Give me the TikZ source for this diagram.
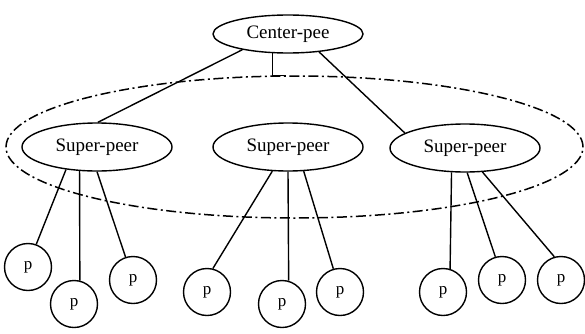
\documentclass[tikz,border=0pt]{standalone}
\usepackage{fontspec}
\setmainfont{Liberation Serif}
\usetikzlibrary{shapes.geometric}
\begin{document}
\begin{tikzpicture}[x=1pt,y=1pt,
  line width=1.4pt,
  peerbox/.style={draw, ellipse, inner sep=0pt, minimum width=150pt, minimum height=48pt, font=\fontsize{19}{21}\selectfont},
  centerbox/.style={draw, ellipse, inner sep=0pt, minimum width=150pt, minimum height=38pt, font=\fontsize{19}{21}\selectfont},
  pnode/.style={draw, circle, inner sep=0pt, minimum size=47pt, font=\fontsize{17}{19}\selectfont},
  groupline/.style={draw, ellipse, inner sep=0pt, minimum width=577pt, minimum height=142pt, line width=1.5pt, dash pattern=on 10pt off 3.5pt on 2pt off 3.5pt},
  link/.style={draw}]
\useasboundingbox (0,0) rectangle (585,333);
\node[groupline] (group) at (294.5,186) {};
\node[centerbox] (cp) at (288,299) {Center-pee};
\node[peerbox] (sp1) at (97,186) {Super-peer};
\node[peerbox] (sp2) at (288,186) {Super-peer};
\node[peerbox] (sp3) at (465,185) {Super-peer};
\node[pnode] (p1) at (28,66) {p};
\node[pnode] (p2) at (74,29) {p};
\node[pnode] (p3) at (133,53) {p};
\node[pnode] (p4) at (207,41) {p};
\node[pnode] (p5) at (282,29) {p};
\node[pnode] (p6) at (340,41) {p};
\node[pnode] (p7) at (443,41) {p};
\node[pnode] (p8) at (502,53) {p};
\node[pnode] (p9) at (561,53) {p};
% center to super-peers
\draw[link] (cp.199) -- (sp1.88);
\draw[link] (cp.330) -- (sp3.166);
\coordinate (joint) at (cp.231 |- group.north);
\draw[link] (cp.231) -- (joint) -- ++(14,0);
% left super-peer
\draw[link] (sp1.216) -- (p1.70);
\draw[link] (sp1.234) -- (p2.76);
\draw[link] (sp1.270) -- (p3.108);
% middle super-peer
\draw[link] (sp2.237) -- (p4.76);
\draw[link] (sp2.270) -- (p5.74);
\draw[link] (sp2.303) -- (p6.106);
% right super-peer
\draw[link] (sp3.241) -- (p7.73);
\draw[link] (sp3.275) -- (p8.106);
\draw[link] (sp3.306) -- (p9.106);
\end{tikzpicture}
\end{document}
